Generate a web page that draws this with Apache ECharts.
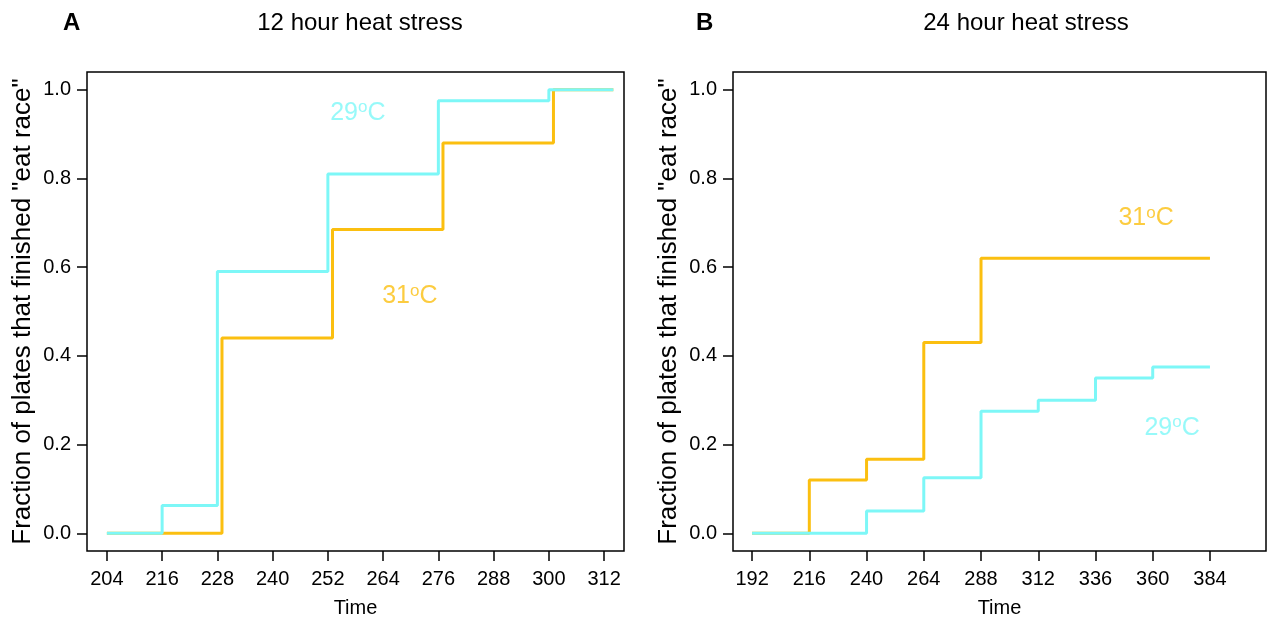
<!DOCTYPE html>
<html>
<head>
<meta charset="utf-8">
<script src="https://cdn.jsdelivr.net/npm/echarts@6/dist/echarts.min.js"></script>
<style>
  html, body { margin: 0; padding: 0; background: #fff; }
  #main { width: 1268px; height: 620px; }
</style>
</head>
<body>
<div id="main"></div>
<script>
// 12 hour heat stress
const t12Cool = [204, 216, 228, 252, 276, 300, 314];
const v12Cool = [0, 0.0625, 0.59, 0.81, 0.975, 1.0, 1.0];
const t12Warm = [204, 229, 253, 277, 301, 314];
const v12Warm = [0, 0.44, 0.685, 0.88, 1.0, 1.0];
// 24 hour heat stress
const t24Cool = [192, 240, 264, 288, 312, 336, 360, 384];
const v24Cool = [0, 0.05, 0.125, 0.275, 0.3, 0.35, 0.375, 0.375];
const t24Warm = [192, 216, 240, 264, 288, 384];
const v24Warm = [0, 0.12, 0.167, 0.43, 0.62, 0.62];

const ticks12 = [204, 216, 228, 240, 252, 264, 276, 288, 300, 312];
const ticks24 = [192, 216, 240, 264, 288, 312, 336, 360, 384];
const ticksY = [0, 0.2, 0.4, 0.6, 0.8, 1.0];

// label spots, in data coords
const lab12 = [[258.5, 0.948, '29'], [269.8, 0.535, '31']];
const lab24 = [[357.2, 0.71, '31'], [368.1, 0.238, '29']];

const COOL = '#7DF7F7';
const WARM = '#FBBF10';
const FONT = '"Liberation Sans", Arial, sans-serif';

const zip = (xs, ys) => xs.map((x, i) => [x, ys[i]]);

function xAxisFor(idx, min, max, ticks) {
  return {
    type: 'value', gridIndex: idx, min: min, max: max, position: 'bottom',
    name: 'Time', nameLocation: 'middle', nameGap: 47,
    nameTextStyle: { fontSize: 20, color: '#000', fontFamily: FONT },
    axisLine: { show: false, onZero: false },
    axisTick: { show: true, inside: false, customValues: ticks, length: 10, lineStyle: { color: '#000', width: 1.5 } },
    axisLabel: { customValues: ticks, fontSize: 20, color: '#000', fontFamily: FONT, margin: 18 },
    splitLine: { show: false }
  };
}
function yAxisFor(idx) {
  return {
    type: 'value', gridIndex: idx, min: -0.04, max: 1.04, position: 'left',
    name: 'Fraction of plates that finished "eat race"', nameLocation: 'middle', nameGap: 51,
    nameTextStyle: { fontSize: 26, color: '#000', fontFamily: FONT },
    axisLine: { show: false, onZero: false },
    axisTick: { show: true, inside: false, customValues: ticksY, length: 10, lineStyle: { color: '#000', width: 1.5 } },
    axisLabel: { customValues: ticksY, fontSize: 20, color: '#000', fontFamily: FONT, margin: 16,
      formatter: v => v.toFixed(1) },
    splitLine: { show: false }
  };
}
function stepLine(idx, data, color) {
  return {
    type: 'line', xAxisIndex: idx, yAxisIndex: idx, data: data, step: 'end',
    symbol: 'none', lineStyle: { color: color, width: 3 }, silent: true
  };
}
function labels(idx, list) {
  return {
    type: 'scatter', xAxisIndex: idx, yAxisIndex: idx, symbolSize: 0, silent: true,
    data: list.map(d => ({ value: [d[0], d[1]], name: d[2] })),
    label: {
      show: true, position: 'inside',
      formatter: p => '{a|' + p.name + '}{s|o}{a|C}',
      rich: {
        a: { fontSize: 25, fontFamily: FONT, color: 'inherit', lineHeight: 27 },
        s: { fontSize: 17, fontFamily: FONT, color: 'inherit', verticalAlign: 'top', lineHeight: 27 }
      }
    },
    itemStyle: { color: (p) => p.name === '29' ? COOL : WARM }
  };
}

const chart = echarts.init(document.getElementById('main'));
chart.setOption({
  animation: false,
  backgroundColor: '#fff',
  title: [
    { text: 'A', left: 58, top: 6, textStyle: { fontSize: 24, fontWeight: 'bold', color: '#000', fontFamily: FONT } },
    { text: '12 hour heat stress', left: 355, top: 6, textAlign: 'center',
      textStyle: { fontSize: 24, fontWeight: 'normal', color: '#000', fontFamily: FONT } },
    { text: 'B', left: 691, top: 6, textStyle: { fontSize: 24, fontWeight: 'bold', color: '#000', fontFamily: FONT } },
    { text: '24 hour heat stress', left: 1021, top: 6, textAlign: 'center',
      textStyle: { fontSize: 24, fontWeight: 'normal', color: '#000', fontFamily: FONT } }
  ],
  grid: [
    { left: 87, right: 644, top: 72, bottom: 69, outerBoundsMode: 'none', containLabel: false,
      show: true, borderColor: '#000', borderWidth: 1.5, backgroundColor: 'transparent' },
    { left: 733, right: 2, top: 72, bottom: 69, outerBoundsMode: 'none', containLabel: false,
      show: true, borderColor: '#000', borderWidth: 1.5, backgroundColor: 'transparent' }
  ],
  xAxis: [xAxisFor(0, 199.68, 316.32, ticks12), xAxisFor(1, 184, 407.5, ticks24)],
  yAxis: [yAxisFor(0), yAxisFor(1)],
  series: [
    stepLine(0, zip(t12Warm, v12Warm), WARM),
    stepLine(0, zip(t12Cool, v12Cool), COOL),
    stepLine(1, zip(t24Warm, v24Warm), WARM),
    stepLine(1, zip(t24Cool, v24Cool), COOL),
    labels(0, lab12),
    labels(1, lab24)
  ]
});
</script>
</body>
</html>
